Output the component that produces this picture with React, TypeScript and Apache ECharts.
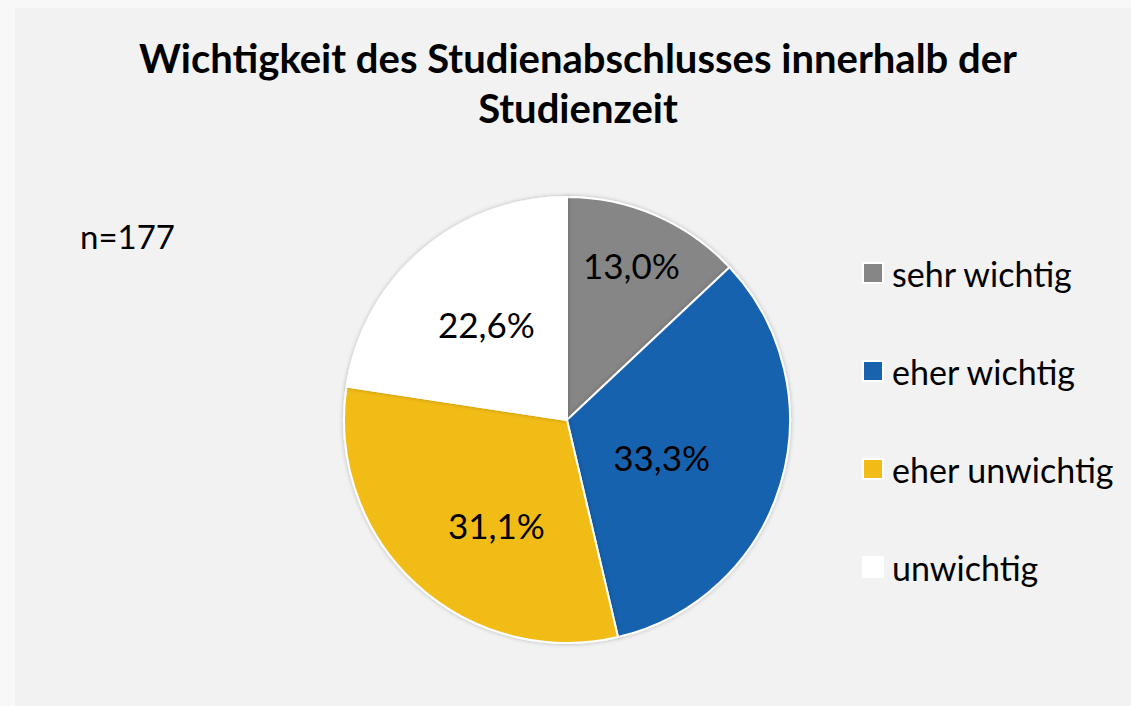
import React, { useEffect, useRef } from "react";
import * as echarts from "echarts";

const categories = ["sehr wichtig", "eher wichtig", "eher unwichtig", "unwichtig"];
const counts = [23, 59, 55, 40];
const colors = ["#868686", "#1862ae", "#f2bc16", "#ffffff"];
const labelShift = [
  [19, -50],
  [-15, 4],
  [7, 21],
  [-6, -9],
];
const titleText = "Wichtigkeit des Studienabschlusses innerhalb der\nStudienzeit";
const noteText = "n=177";
const FONT = "Lato";

export default function App() {
  const ref = useRef<HTMLDivElement>(null);
  useEffect(() => {
    if (!ref.current) return;
    const chart = echarts.init(ref.current, undefined, { renderer: "svg" });
    const total = counts.reduce((a, b) => a + b, 0);
    chart.setOption({
      animation: false,
      backgroundColor: "#f8f8f8",
      graphic: [
        {
          type: "rect",
          left: 15,
          top: 8,
          shape: { width: 1116, height: 698 },
          style: { fill: "#f2f2f2" },
          z: -10,
        },
        {
          type: "text",
          left: 80,
          top: 219,
          style: { text: noteText, font: `33px ${FONT}`, fill: "#000" },
        },
      ],
      title: {
        text: titleText,
        left: 573,
        top: 28,
        textAlign: "center",
        textStyle: {
          fontFamily: FONT,
          fontWeight: "bold",
          fontSize: 40,
          lineHeight: 50,
          color: "#000",
        },
      },
      legend: {
        orient: "vertical",
        left: 857,
        top: 251,
        itemWidth: 20,
        itemHeight: 20,
        itemGap: 64,
        icon: "rect",
        data: categories,
        textStyle: {
          fontFamily: FONT,
          fontSize: 34,
          lineHeight: 34,
          color: "#000",
          padding: [0, 0, 0, 4],
        },
      },
      series: [
        {
          type: "pie",
          center: [567, 420],
          radius: [0, 223],
          startAngle: 90,
          clockwise: true,
          data: categories.map((c, i) => ({
            name: c,
            value: counts[i],
            itemStyle: { color: colors[i] },
          })),
          itemStyle: {
            borderColor: "#ffffff",
            borderWidth: 2,
            shadowBlur: 4,
            shadowColor: "rgba(0,0,0,0.25)",
          },
          label: {
            show: true,
            position: "inside",
            fontFamily: FONT,
            fontSize: 35,
            color: "#000",
            formatter: (p: any) =>
              ((p.value / total) * 100).toFixed(1).replace(".", ",") + "%",
          },
          labelLayout: (p: any) => ({
            dx: labelShift[p.dataIndex][0],
            dy: labelShift[p.dataIndex][1],
          }),
          emphasis: { disabled: true },
        },
      ],
    });
    return () => chart.dispose();
  }, []);
  return (
    <div style={{ position: "fixed", left: 0, top: 0, width: 1131, height: 706 }}>
      <div ref={ref} style={{ width: 1131, height: 706 }} />
    </div>
  );
}
